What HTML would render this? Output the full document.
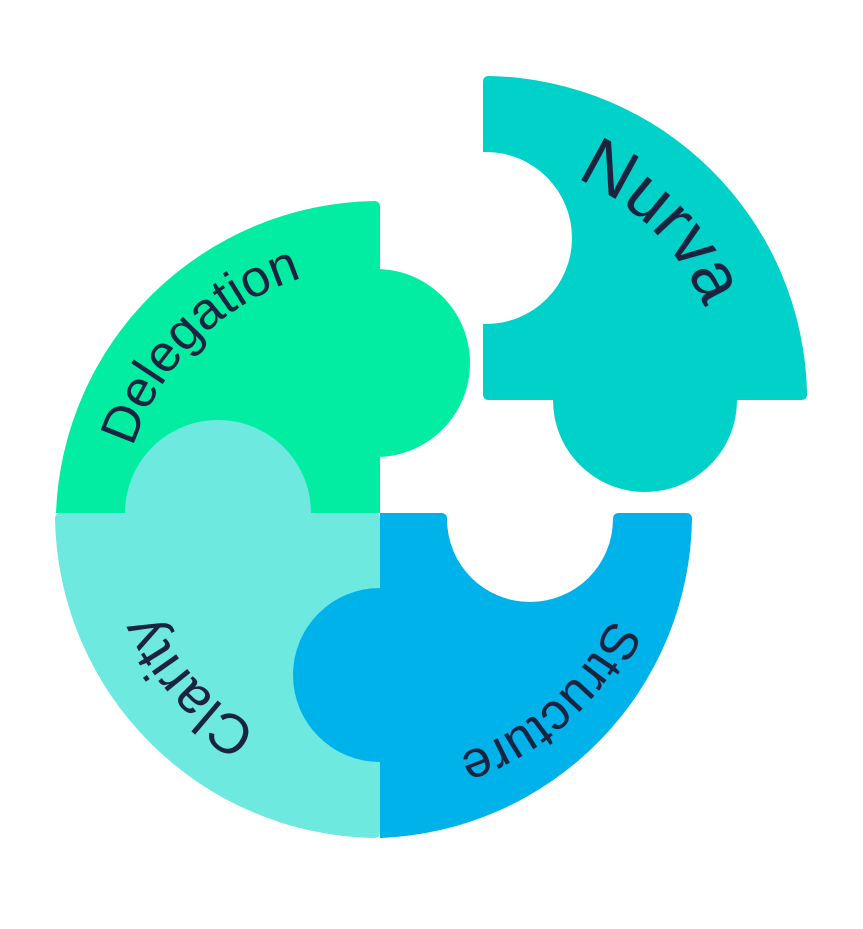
<!DOCTYPE html>
<html><head><meta charset="utf-8"><style>
html,body{margin:0;padding:0;background:#fff;}
svg{display:block;}
text{font-family:"Liberation Sans",sans-serif;fill:#1a2440;}
</style></head><body>
<svg width="863" height="929" viewBox="0 0 863 929" xmlns="http://www.w3.org/2000/svg">
<defs>
<path id="cD" d="M639,525 A259,259 0 1 1 121,525 A259,259 0 1 1 639,525"/>
<path id="cC" d="M628,513 A248,248 0 1 1 132,513 A248,248 0 1 1 628,513"/>
<path id="cS" d="M634,513 A254,254 0 1 1 126,513 A254,254 0 1 1 634,513"/>
<path id="cN" d="M723,400 A240,240 0 1 1 243,400 A240,240 0 1 1 723,400"/>
</defs>
<!-- Nurva -->
<path d="M483,82 Q483,76 489,76 A324,324 0 0 1 807,394 Q807,400 801,400 L489,400 Q483,400 483,394 Z" fill="#00d1c9"/>
<circle cx="645" cy="400" r="92" fill="#00d1c9"/>
<circle cx="486" cy="238" r="86" fill="#fff"/>
<!-- Green Delegation -->
<path d="M380,513 L56,513 A324,324 0 0 1 374,201 Q380,201 380,207 Z" fill="#02eda1"/>
<circle cx="376" cy="363" r="94" fill="#02eda1"/>
<!-- Clarity -->
<path d="M380,519 L380,832 Q380,838 374,838 A325,325 0 0 1 55,519 Q55,513 61,513 L374,513 Q380,513 380,519 Z" fill="#6de9df"/>
<circle cx="218" cy="513" r="93" fill="#6de9df"/>
<!-- Blue Structure -->
<path d="M380,513 L441,513 Q447,513 447,519 A83,83 0 0 0 613,519 Q613,513 619,513 L686,513 Q692,513 692,519 A324,324 0 0 1 380,838 Z" fill="#00b2ea"/>
<circle cx="380" cy="675" r="87" fill="#00b2ea"/>
<!-- Labels -->
<text font-size="52" text-anchor="middle"><textPath href="#cD" startOffset="62.5%">Delegation</textPath></text>
<text font-size="56" text-anchor="middle"><textPath href="#cC" startOffset="38.3%">Clarity</textPath></text>
<text font-size="52" text-anchor="middle"><textPath href="#cS" startOffset="13.4%">Structure</textPath></text>
<text font-size="70" text-anchor="middle"><textPath href="#cN" startOffset="87.5%">Nurva</textPath></text>
</svg>
</body></html>
